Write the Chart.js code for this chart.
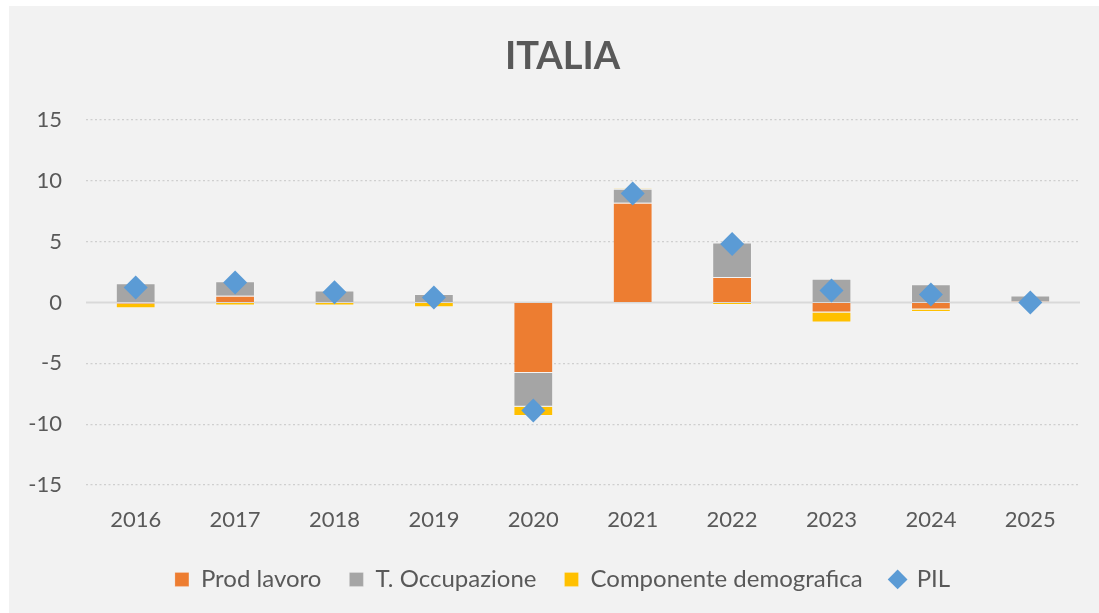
<!DOCTYPE html>
<html>
<head>
<meta charset="utf-8">
<script src="https://cdn.jsdelivr.net/npm/chart.js@4.4.1/dist/chart.umd.min.js"></script>
<style>
  html, body { margin: 0; padding: 0; background: #ffffff; }
  #wrap { position: absolute; left: 0; top: 0; width: 1099px; height: 613px; }
</style>
</head>
<body>
<div id="wrap"><canvas id="c" width="1099" height="613"></canvas></div>
<script>
const categories = ['2016', '2017', '2018', '2019', '2020', '2021', '2022', '2023', '2024', '2025'];
const prodLavoro = [-0.1, 0.55, 0, 0, -5.8, 8.2, 2.1, -0.82, -0.57, 0.08];
const tOccupazione = [1.58, 1.2, 0.98, 0.7, -2.77, 1.14, 2.83, 1.96, 1.5, 0.49];
const componenteDemografica = [-0.38, -0.25, -0.25, -0.4, -0.76, 0.05, -0.2, -0.82, -0.22, 0];
const pil = [1.23, 1.64, 0.85, 0.41, -8.88, 8.95, 4.8, 0.98, 0.65, 0];
const yTicks = [-15, -10, -5, 0, 5, 10, 15];

const FONT = 'Lato, "Open Sans", sans-serif';
const TXT = '#595959';

const panelBg = {
  id: 'panelBg',
  beforeDraw(chart) {
    const ctx = chart.ctx;
    ctx.save();
    ctx.fillStyle = '#f2f2f2';
    ctx.fillRect(9, 6, chart.width - 9, chart.height - 6);
    ctx.restore();
  }
};
const zeroLine = {
  id: 'zeroLine',
  beforeDatasetsDraw(chart) {
    const y = chart.scales.y.getPixelForValue(0);
    const a = chart.chartArea;
    const ctx = chart.ctx;
    ctx.save();
    ctx.strokeStyle = '#d9d9d9';
    ctx.lineWidth = 2;
    ctx.beginPath();
    ctx.moveTo(a.left, y);
    ctx.lineTo(a.right, y);
    ctx.stroke();
    ctx.restore();
  }
};

new Chart(document.getElementById('c'), {
  type: 'bar',
  data: {
    labels: categories,
    datasets: [
      { label: 'Prod lavoro', data: prodLavoro, backgroundColor: '#ed7d31', borderColor: 'rgba(255,255,255,0.2)', borderWidth: 1, pointStyle: 'rect', order: 1, stack: 's' },
      { label: 'T. Occupazione', data: tOccupazione, backgroundColor: '#a5a5a5', borderColor: 'rgba(255,255,255,0.2)', borderWidth: 1, pointStyle: 'rect', order: 1, stack: 's' },
      { label: 'Componente demografica', data: componenteDemografica, backgroundColor: '#ffc000', borderColor: 'rgba(255,255,255,0.2)', borderWidth: 1, pointStyle: 'rect', order: 1, stack: 's' },
      { label: 'PIL', type: 'line', data: pil, showLine: false, backgroundColor: '#5b9bd5', borderColor: '#5b9bd5', borderWidth: 0,
        pointStyle: 'rectRot', pointRadius: 12, pointHoverRadius: 12, order: 0, stack: 'pil' }
    ]
  },
  options: {
    responsive: false,
    animation: false,
    devicePixelRatio: 1,
    layout: { padding: { left: 26, right: 0, top: 6, bottom: 11.6 } },
    datasets: { bar: { categoryPercentage: 1, barPercentage: 0.4 } },
    scales: {
      x: {
        stacked: true,
        afterFit(s) { s.height = 54.4; },
        grid: { display: false, drawTicks: false },
        border: { display: false },
        ticks: { color: TXT, font: { family: FONT, size: 22 }, padding: 22 }
      },
      y: {
        stacked: true,
        min: -15, max: 15,
        afterFit(s) { s.width = 60; },
        afterBuildTicks(s) { s.ticks = yTicks.map(v => ({ value: v })); },
        grid: {
          color: ctx => (ctx.tick && ctx.tick.value === 0) ? 'rgba(0,0,0,0)' : '#cfcfcf',
          lineWidth: 1.2,
          drawTicks: false
        },
        border: { display: false, dash: [2, 2.5] },
        ticks: { color: TXT, font: { family: FONT, size: 22 }, padding: 24 }
      },
      yRightSpace: {
        position: 'right',
        display: true,
        afterFit(s) { s.width = 19; },
        grid: { display: false, drawTicks: false },
        border: { display: false },
        ticks: { display: false }
      }
    },
    plugins: {
      title: {
        display: true, text: 'ITALIA', color: TXT,
        font: { family: FONT, size: 38, weight: 'bold' },
        padding: { top: 27.7, bottom: 40.7 }
      },
      legend: {
        position: 'bottom',
        labels: {
          color: TXT, font: { family: FONT, size: 24 },
          usePointStyle: true, boxWidth: 14, boxHeight: 14, padding: 28,
          sort: (a, b) => a.datasetIndex - b.datasetIndex
        }
      },
      tooltip: { enabled: false }
    }
  },
  plugins: [panelBg, zeroLine]
});
</script>
</body>
</html>
